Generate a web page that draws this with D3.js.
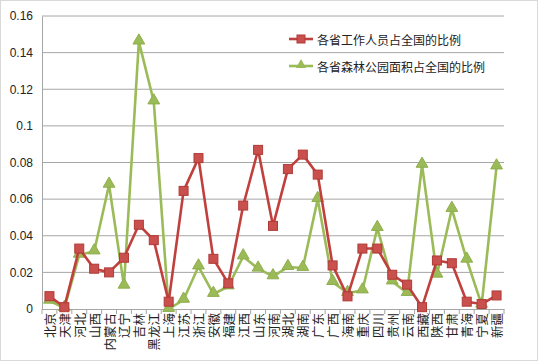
<!DOCTYPE html>
<html><head><meta charset="utf-8">
<script src="https://cdn.jsdelivr.net/npm/d3@7"></script>
<style>body{margin:0;background:#fff;} svg{display:block;}</style>
</head><body>
<svg id="c" width="538" height="361"></svg>
<script>
const provinces = ["北京","天津","河北","山西","内蒙古","辽宁","吉林","黑龙江","上海","江苏","浙江","安徽","福建","江西","山东","河南","湖北","湖南","广东","广西","海南","重庆","四川","贵州","云南","西藏","陕西","甘肃","青海","宁夏","新疆"];
const workers = [0.007,0.001,0.033,0.022,0.020,0.028,0.046,0.0376,0.004,0.0645,0.0824,0.0274,0.0140,0.0565,0.0869,0.0454,0.0764,0.0843,0.0734,0.0238,0.0069,0.033,0.033,0.0187,0.0133,0.001,0.0265,0.025,0.004,0.0027,0.0074];
const parks = [0.0045,0.0005,0.0296,0.0314,0.0678,0.0127,0.146,0.1133,0.0,0.005,0.0232,0.0082,0.0123,0.0287,0.022,0.0178,0.0229,0.0224,0.0600,0.0147,0.0087,0.0101,0.0442,0.015,0.0087,0.0787,0.0187,0.0546,0.0269,0.0023,0.0778];
const yTicks = [0,0.02,0.04,0.06,0.08,0.1,0.12,0.14,0.16];
const seriesNames = ["各省工作人员占全国的比例","各省森林公园面积占全国的比例"];
const colors = ["#c0403d","#9bbb59"];

const svg = d3.select("#c");
const font = "'Liberation Sans','Noto Sans CJK SC',sans-serif";
svg.append("rect").attr("x",0.5).attr("y",0.5).attr("width",537).attr("height",360).attr("fill","#fff").attr("stroke","#d9d9d9");

const L=42, R=504, T=16, B=309;
const x = d3.scaleBand().domain(provinces).range([L,R]);
const y = d3.scaleLinear().domain([0,0.16]).range([B,T]);

// gridlines
svg.append("g").selectAll("line").data(yTicks.filter(d=>d>0)).join("line")
  .attr("x1",L).attr("x2",R).attr("y1",d=>y(d)).attr("y2",d=>y(d))
  .attr("stroke","#a6a6a6").attr("stroke-width",1);

// y axis
const ya = svg.append("g").attr("transform",`translate(${L},0)`)
  .call(d3.axisLeft(y).tickValues(yTicks).tickSize(0).tickPadding(9).tickFormat(d=>String(+d.toFixed(2))));
ya.select(".domain").attr("stroke","#a6a6a6");
ya.selectAll("text").attr("font-family",font).attr("font-size",12).attr("fill","#222");

// x axis
const xa = svg.append("g").attr("transform",`translate(0,${B})`)
  .call(d3.axisBottom(x).tickSize(0).tickFormat(""));
xa.select(".domain").attr("stroke","#a6a6a6");
svg.append("g").selectAll("line").data(d3.range(provinces.length+1)).join("line")
  .attr("x1",i=>L+i*x.step()).attr("x2",i=>L+i*x.step()).attr("y1",B).attr("y2",B+5)
  .attr("stroke","#a6a6a6");
svg.append("g").selectAll("text").data(provinces).join("text")
  .attr("transform",d=>`translate(${x(d)+x.bandwidth()/2},${B+4}) rotate(-90)`)
  .attr("text-anchor","end").attr("dominant-baseline","central")
  .attr("font-family","'Noto Sans CJK SC',sans-serif").attr("font-size",12.5).attr("fill","#222")
  .text(d=>d);

const cx = d=>x(d)+x.bandwidth()/2;
const line = d3.line().x((v,i)=>cx(provinces[i])).y(v=>y(v));
const tri = d3.symbol().type(d3.symbolTriangle).size(60);

// parks series
svg.append("path").datum(parks).attr("d",line).attr("fill","none").attr("stroke",colors[1]).attr("stroke-width",2.6).attr("stroke-linejoin","round");
svg.append("g").selectAll("path").data(parks).join("path")
  .attr("d",tri).attr("transform",(v,i)=>`translate(${cx(provinces[i])},${y(v)-1})`)
  .attr("fill",colors[1]).attr("stroke","#8fae4c").attr("stroke-width",1);

// workers series
svg.append("path").datum(workers).attr("d",line).attr("fill","none").attr("stroke",colors[0]).attr("stroke-width",2.6).attr("stroke-linejoin","round");
svg.append("g").selectAll("rect").data(workers).join("rect")
  .attr("x",(v,i)=>cx(provinces[i])-4.5).attr("y",v=>y(v)-4.5).attr("width",9).attr("height",9)
  .attr("fill","#c9504d").attr("stroke","#b03a37").attr("stroke-width",1);

// legend
const lg = svg.append("g");
[0,1].forEach(k=>{
  const ly = k===0 ? 39 : 66;
  lg.append("line").attr("x1",289).attr("x2",313).attr("y1",ly).attr("y2",ly).attr("stroke",colors[k]).attr("stroke-width",2.6);
  if(k===0) lg.append("rect").attr("x",297).attr("y",ly-4).attr("width",8).attr("height",8).attr("fill","#c9504d").attr("stroke","#b03a37");
  else lg.append("path").attr("d",d3.symbol().type(d3.symbolTriangle).size(45)).attr("transform",`translate(301,${ly-1})`).attr("fill",colors[1]);
  lg.append("text").attr("x",317).attr("y",ly).attr("dominant-baseline","central")
    .attr("font-family","'Noto Sans CJK SC',sans-serif").attr("font-size",12).attr("fill","#222")
    .text(seriesNames[k]);
});
</script>
</body></html>
